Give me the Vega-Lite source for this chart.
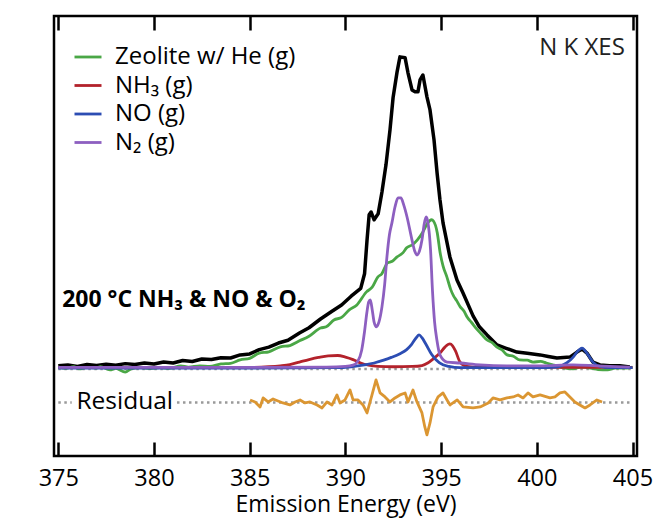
{
  "$schema": "https://vega.github.io/schema/vega-lite/v6.json",
  "width": 583,
  "height": 440,
  "autosize": {"type": "none"},
  "padding": {"left": 54, "top": 16, "right": 18, "bottom": 62},
  "background": "white",
  "config": {
    "view": {"stroke": "black", "strokeWidth": 2.5},
    "font": "Open Sans",
    "axis": {"grid": false}
  },
  "datasets": {
    "baselines": [
      {"x1": 375, "x2": 405, "y": 0},
      {"x1": 375, "x2": 375.7, "y": -0.1074},
      {"x1": 381.2, "x2": 405, "y": -0.1074}
    ],
    "total": [
      {"E": 375.0, "I": 0.010}, {"E": 375.5, "I": 0.013}, {"E": 376.0, "I": 0.008}, {"E": 376.5, "I": 0.014},
      {"E": 377.0, "I": 0.011}, {"E": 377.5, "I": 0.015}, {"E": 378.0, "I": 0.012}, {"E": 378.5, "I": 0.017},
      {"E": 379.0, "I": 0.014}, {"E": 379.5, "I": 0.019}, {"E": 380.0, "I": 0.016}, {"E": 380.5, "I": 0.022},
      {"E": 381.0, "I": 0.019}, {"E": 381.5, "I": 0.027}, {"E": 382.0, "I": 0.024}, {"E": 382.5, "I": 0.032},
      {"E": 383.0, "I": 0.030}, {"E": 383.5, "I": 0.036}, {"E": 384.0, "I": 0.035}, {"E": 384.5, "I": 0.045},
      {"E": 385.0, "I": 0.048}, {"E": 385.5, "I": 0.062}, {"E": 386.0, "I": 0.070}, {"E": 386.5, "I": 0.083},
      {"E": 387.0, "I": 0.092}, {"E": 387.6, "I": 0.115}, {"E": 388.1, "I": 0.132}, {"E": 388.7, "I": 0.160},
      {"E": 389.3, "I": 0.185}, {"E": 389.8, "I": 0.205}, {"E": 390.3, "I": 0.233}, {"E": 390.8, "I": 0.258},
      {"E": 391.0, "I": 0.305}, {"E": 391.13, "I": 0.413}, {"E": 391.24, "I": 0.494}, {"E": 391.34, "I": 0.503},
      {"E": 391.5, "I": 0.478}, {"E": 391.71, "I": 0.497}, {"E": 391.91, "I": 0.567}, {"E": 392.12, "I": 0.654},
      {"E": 392.33, "I": 0.766}, {"E": 392.49, "I": 0.869}, {"E": 392.7, "I": 0.952}, {"E": 392.85, "I": 1.0},
      {"E": 393.12, "I": 0.997}, {"E": 393.27, "I": 0.949}, {"E": 393.48, "I": 0.894}, {"E": 393.64, "I": 0.888},
      {"E": 393.79, "I": 0.888}, {"E": 393.9, "I": 0.926}, {"E": 394.05, "I": 0.942}, {"E": 394.26, "I": 0.872},
      {"E": 394.42, "I": 0.83}, {"E": 394.63, "I": 0.734}, {"E": 394.79, "I": 0.628}, {"E": 394.94, "I": 0.542},
      {"E": 395.1, "I": 0.468}, {"E": 395.46, "I": 0.359}, {"E": 395.83, "I": 0.285}, {"E": 396.14, "I": 0.244},
      {"E": 396.67, "I": 0.17}, {"E": 397.0, "I": 0.135}, {"E": 397.4, "I": 0.109}, {"E": 397.92, "I": 0.077},
      {"E": 398.4, "I": 0.066}, {"E": 398.96, "I": 0.054}, {"E": 399.5, "I": 0.05}, {"E": 400.17, "I": 0.045},
      {"E": 400.6, "I": 0.04}, {"E": 401.05, "I": 0.035}, {"E": 401.4, "I": 0.037}, {"E": 401.73, "I": 0.038},
      {"E": 402.1, "I": 0.054}, {"E": 402.36, "I": 0.064}, {"E": 402.62, "I": 0.051}, {"E": 402.93, "I": 0.022},
      {"E": 403.3, "I": 0.013}, {"E": 403.8, "I": 0.01}, {"E": 404.34, "I": 0.01}, {"E": 404.86, "I": 0.006}
    ],
    "components": [
      {"series": "Zeolite w/ He (g)", "E": 375.0, "I": 0.006}, {"series": "Zeolite w/ He (g)", "E": 375.4, "I": 0.002},
      {"series": "Zeolite w/ He (g)", "E": 375.8, "I": 0.007}, {"series": "Zeolite w/ He (g)", "E": 376.1, "I": 0.0},
      {"series": "Zeolite w/ He (g)", "E": 376.5, "I": 0.005}, {"series": "Zeolite w/ He (g)", "E": 377.0, "I": 0.003},
      {"series": "Zeolite w/ He (g)", "E": 377.2, "I": 0.007}, {"series": "Zeolite w/ He (g)", "E": 377.7, "I": -0.003},
      {"series": "Zeolite w/ He (g)", "E": 378.0, "I": 0.002}, {"series": "Zeolite w/ He (g)", "E": 378.5, "I": -0.01},
      {"series": "Zeolite w/ He (g)", "E": 378.8, "I": 0.0}, {"series": "Zeolite w/ He (g)", "E": 379.3, "I": 0.004},
      {"series": "Zeolite w/ He (g)", "E": 379.8, "I": 0.001}, {"series": "Zeolite w/ He (g)", "E": 380.3, "I": 0.004},
      {"series": "Zeolite w/ He (g)", "E": 380.8, "I": 0.002}, {"series": "Zeolite w/ He (g)", "E": 381.4, "I": 0.01},
      {"series": "Zeolite w/ He (g)", "E": 381.8, "I": 0.006}, {"series": "Zeolite w/ He (g)", "E": 382.4, "I": 0.01},
      {"series": "Zeolite w/ He (g)", "E": 382.9, "I": 0.008}, {"series": "Zeolite w/ He (g)", "E": 383.5, "I": 0.016},
      {"series": "Zeolite w/ He (g)", "E": 384.0, "I": 0.018}, {"series": "Zeolite w/ He (g)", "E": 384.5, "I": 0.029},
      {"series": "Zeolite w/ He (g)", "E": 385.0, "I": 0.034}, {"series": "Zeolite w/ He (g)", "E": 385.5, "I": 0.051},
      {"series": "Zeolite w/ He (g)", "E": 386.0, "I": 0.055}, {"series": "Zeolite w/ He (g)", "E": 386.6, "I": 0.071},
      {"series": "Zeolite w/ He (g)", "E": 387.1, "I": 0.075}, {"series": "Zeolite w/ He (g)", "E": 387.6, "I": 0.09},
      {"series": "Zeolite w/ He (g)", "E": 388.1, "I": 0.105}, {"series": "Zeolite w/ He (g)", "E": 388.7, "I": 0.131},
      {"series": "Zeolite w/ He (g)", "E": 389.0, "I": 0.135}, {"series": "Zeolite w/ He (g)", "E": 389.4, "I": 0.157},
      {"series": "Zeolite w/ He (g)", "E": 389.8, "I": 0.165}, {"series": "Zeolite w/ He (g)", "E": 390.2, "I": 0.189},
      {"series": "Zeolite w/ He (g)", "E": 390.6, "I": 0.205}, {"series": "Zeolite w/ He (g)", "E": 391.1, "I": 0.247},
      {"series": "Zeolite w/ He (g)", "E": 391.4, "I": 0.262}, {"series": "Zeolite w/ He (g)", "E": 391.7, "I": 0.295},
      {"series": "Zeolite w/ He (g)", "E": 391.9, "I": 0.305}, {"series": "Zeolite w/ He (g)", "E": 392.2, "I": 0.34},
      {"series": "Zeolite w/ He (g)", "E": 392.45, "I": 0.345}, {"series": "Zeolite w/ He (g)", "E": 392.7, "I": 0.359},
      {"series": "Zeolite w/ He (g)", "E": 393.0, "I": 0.372}, {"series": "Zeolite w/ He (g)", "E": 393.2, "I": 0.388},
      {"series": "Zeolite w/ He (g)", "E": 393.5, "I": 0.398}, {"series": "Zeolite w/ He (g)", "E": 393.75, "I": 0.413},
      {"series": "Zeolite w/ He (g)", "E": 394.05, "I": 0.439}, {"series": "Zeolite w/ He (g)", "E": 394.3, "I": 0.468},
      {"series": "Zeolite w/ He (g)", "E": 394.5, "I": 0.478}, {"series": "Zeolite w/ He (g)", "E": 394.6, "I": 0.474},
      {"series": "Zeolite w/ He (g)", "E": 394.8, "I": 0.436}, {"series": "Zeolite w/ He (g)", "E": 394.95, "I": 0.372},
      {"series": "Zeolite w/ He (g)", "E": 395.1, "I": 0.33}, {"series": "Zeolite w/ He (g)", "E": 395.3, "I": 0.295},
      {"series": "Zeolite w/ He (g)", "E": 395.5, "I": 0.255}, {"series": "Zeolite w/ He (g)", "E": 395.65, "I": 0.234},
      {"series": "Zeolite w/ He (g)", "E": 395.8, "I": 0.22}, {"series": "Zeolite w/ He (g)", "E": 396.0, "I": 0.199},
      {"series": "Zeolite w/ He (g)", "E": 396.2, "I": 0.185}, {"series": "Zeolite w/ He (g)", "E": 396.35, "I": 0.167},
      {"series": "Zeolite w/ He (g)", "E": 396.6, "I": 0.148}, {"series": "Zeolite w/ He (g)", "E": 396.9, "I": 0.125},
      {"series": "Zeolite w/ He (g)", "E": 397.1, "I": 0.112}, {"series": "Zeolite w/ He (g)", "E": 397.4, "I": 0.093},
      {"series": "Zeolite w/ He (g)", "E": 397.65, "I": 0.085}, {"series": "Zeolite w/ He (g)", "E": 397.9, "I": 0.071},
      {"series": "Zeolite w/ He (g)", "E": 398.2, "I": 0.06}, {"series": "Zeolite w/ He (g)", "E": 398.45, "I": 0.045},
      {"series": "Zeolite w/ He (g)", "E": 398.8, "I": 0.04}, {"series": "Zeolite w/ He (g)", "E": 399.1, "I": 0.029},
      {"series": "Zeolite w/ He (g)", "E": 399.5, "I": 0.028}, {"series": "Zeolite w/ He (g)", "E": 399.8, "I": 0.022},
      {"series": "Zeolite w/ He (g)", "E": 400.2, "I": 0.024}, {"series": "Zeolite w/ He (g)", "E": 400.5, "I": 0.019},
      {"series": "Zeolite w/ He (g)", "E": 400.9, "I": 0.012}, {"series": "Zeolite w/ He (g)", "E": 401.4, "I": 0.003},
      {"series": "Zeolite w/ He (g)", "E": 401.9, "I": 0.0}, {"series": "Zeolite w/ He (g)", "E": 402.3, "I": 0.006},
      {"series": "Zeolite w/ He (g)", "E": 402.8, "I": 0.003}, {"series": "Zeolite w/ He (g)", "E": 403.2, "I": -0.002},
      {"series": "Zeolite w/ He (g)", "E": 403.7, "I": -0.003}, {"series": "Zeolite w/ He (g)", "E": 404.1, "I": 0.003},
      {"series": "Zeolite w/ He (g)", "E": 404.7, "I": 0.003}, {"series": "Zeolite w/ He (g)", "E": 405.0, "I": 0.006},

      {"series": "NH₃ (g)", "E": 375.0, "I": 0.005}, {"series": "NH₃ (g)", "E": 385.0, "I": 0.005},
      {"series": "NH₃ (g)", "E": 386.0, "I": 0.007}, {"series": "NH₃ (g)", "E": 386.6, "I": 0.010},
      {"series": "NH₃ (g)", "E": 387.1, "I": 0.014}, {"series": "NH₃ (g)", "E": 387.6, "I": 0.022},
      {"series": "NH₃ (g)", "E": 388.1, "I": 0.030}, {"series": "NH₃ (g)", "E": 388.6, "I": 0.037},
      {"series": "NH₃ (g)", "E": 389.1, "I": 0.042}, {"series": "NH₃ (g)", "E": 389.6, "I": 0.043},
      {"series": "NH₃ (g)", "E": 390.0, "I": 0.038}, {"series": "NH₃ (g)", "E": 390.4, "I": 0.030},
      {"series": "NH₃ (g)", "E": 390.8, "I": 0.019}, {"series": "NH₃ (g)", "E": 391.2, "I": 0.012},
      {"series": "NH₃ (g)", "E": 391.7, "I": 0.008}, {"series": "NH₃ (g)", "E": 392.5, "I": 0.007},
      {"series": "NH₃ (g)", "E": 393.5, "I": 0.008}, {"series": "NH₃ (g)", "E": 394.0, "I": 0.011},
      {"series": "NH₃ (g)", "E": 394.3, "I": 0.019}, {"series": "NH₃ (g)", "E": 394.6, "I": 0.033},
      {"series": "NH₃ (g)", "E": 394.94, "I": 0.051}, {"series": "NH₃ (g)", "E": 395.2, "I": 0.070},
      {"series": "NH₃ (g)", "E": 395.46, "I": 0.080}, {"series": "NH₃ (g)", "E": 395.6, "I": 0.074},
      {"series": "NH₃ (g)", "E": 395.75, "I": 0.058}, {"series": "NH₃ (g)", "E": 395.99, "I": 0.022},
      {"series": "NH₃ (g)", "E": 396.35, "I": 0.008}, {"series": "NH₃ (g)", "E": 397.0, "I": 0.005},
      {"series": "NH₃ (g)", "E": 400.0, "I": 0.005}, {"series": "NH₃ (g)", "E": 405.0, "I": 0.005},

      {"series": "NO (g)", "E": 375.0, "I": 0.003}, {"series": "NO (g)", "E": 385.0, "I": 0.003},
      {"series": "NO (g)", "E": 389.5, "I": 0.004}, {"series": "NO (g)", "E": 390.3, "I": 0.007},
      {"series": "NO (g)", "E": 391.0, "I": 0.013}, {"series": "NO (g)", "E": 391.5, "I": 0.019},
      {"series": "NO (g)", "E": 392.0, "I": 0.028}, {"series": "NO (g)", "E": 392.4, "I": 0.037},
      {"series": "NO (g)", "E": 392.85, "I": 0.049}, {"series": "NO (g)", "E": 393.2, "I": 0.062},
      {"series": "NO (g)", "E": 393.45, "I": 0.078}, {"series": "NO (g)", "E": 393.7, "I": 0.100},
      {"series": "NO (g)", "E": 393.85, "I": 0.109}, {"series": "NO (g)", "E": 394.0, "I": 0.100},
      {"series": "NO (g)", "E": 394.2, "I": 0.080}, {"series": "NO (g)", "E": 394.5, "I": 0.047},
      {"series": "NO (g)", "E": 394.9, "I": 0.020}, {"series": "NO (g)", "E": 395.4, "I": 0.008},
      {"series": "NO (g)", "E": 396.0, "I": 0.004}, {"series": "NO (g)", "E": 400.0, "I": 0.004},
      {"series": "NO (g)", "E": 401.0, "I": 0.006}, {"series": "NO (g)", "E": 401.58, "I": 0.020},
      {"series": "NO (g)", "E": 401.9, "I": 0.038}, {"series": "NO (g)", "E": 402.1, "I": 0.054},
      {"series": "NO (g)", "E": 402.36, "I": 0.067}, {"series": "NO (g)", "E": 402.67, "I": 0.046},
      {"series": "NO (g)", "E": 402.93, "I": 0.022}, {"series": "NO (g)", "E": 403.3, "I": 0.008},
      {"series": "NO (g)", "E": 403.8, "I": 0.004}, {"series": "NO (g)", "E": 405.0, "I": 0.004},

      {"series": "N₂ (g)", "E": 375.0, "I": 0.005}, {"series": "N₂ (g)", "E": 385.0, "I": 0.005},
      {"series": "N₂ (g)", "E": 389.0, "I": 0.006}, {"series": "N₂ (g)", "E": 390.0, "I": 0.008},
      {"series": "N₂ (g)", "E": 390.4, "I": 0.012}, {"series": "N₂ (g)", "E": 390.65, "I": 0.025},
      {"series": "N₂ (g)", "E": 390.85, "I": 0.06}, {"series": "N₂ (g)", "E": 391.0, "I": 0.12},
      {"series": "N₂ (g)", "E": 391.12, "I": 0.18}, {"series": "N₂ (g)", "E": 391.22, "I": 0.215},
      {"series": "N₂ (g)", "E": 391.3, "I": 0.221}, {"series": "N₂ (g)", "E": 391.4, "I": 0.19},
      {"series": "N₂ (g)", "E": 391.5, "I": 0.15}, {"series": "N₂ (g)", "E": 391.62, "I": 0.135},
      {"series": "N₂ (g)", "E": 391.75, "I": 0.15}, {"series": "N₂ (g)", "E": 391.91, "I": 0.199},
      {"series": "N₂ (g)", "E": 392.05, "I": 0.27}, {"series": "N₂ (g)", "E": 392.17, "I": 0.359},
      {"series": "N₂ (g)", "E": 392.3, "I": 0.43}, {"series": "N₂ (g)", "E": 392.43, "I": 0.468},
      {"series": "N₂ (g)", "E": 392.59, "I": 0.519}, {"series": "N₂ (g)", "E": 392.75, "I": 0.548},
      {"series": "N₂ (g)", "E": 392.9, "I": 0.548}, {"series": "N₂ (g)", "E": 393.05, "I": 0.525},
      {"series": "N₂ (g)", "E": 393.22, "I": 0.487}, {"series": "N₂ (g)", "E": 393.48, "I": 0.413},
      {"series": "N₂ (g)", "E": 393.62, "I": 0.378}, {"series": "N₂ (g)", "E": 393.74, "I": 0.365},
      {"series": "N₂ (g)", "E": 393.87, "I": 0.378}, {"series": "N₂ (g)", "E": 394.0, "I": 0.413},
      {"series": "N₂ (g)", "E": 394.12, "I": 0.465}, {"series": "N₂ (g)", "E": 394.22, "I": 0.487},
      {"series": "N₂ (g)", "E": 394.31, "I": 0.47}, {"series": "N₂ (g)", "E": 394.45, "I": 0.38},
      {"series": "N₂ (g)", "E": 394.55, "I": 0.25}, {"series": "N₂ (g)", "E": 394.66, "I": 0.15},
      {"series": "N₂ (g)", "E": 394.78, "I": 0.093}, {"series": "N₂ (g)", "E": 394.94, "I": 0.045},
      {"series": "N₂ (g)", "E": 395.31, "I": 0.022}, {"series": "N₂ (g)", "E": 395.99, "I": 0.019},
      {"series": "N₂ (g)", "E": 397.04, "I": 0.013}, {"series": "N₂ (g)", "E": 398.44, "I": 0.01},
      {"series": "N₂ (g)", "E": 400.17, "I": 0.01}, {"series": "N₂ (g)", "E": 401.89, "I": 0.013},
      {"series": "N₂ (g)", "E": 403.14, "I": 0.01}, {"series": "N₂ (g)", "E": 404.86, "I": 0.006}
    ],
    "residual": [
      {"E": 385.02, "I": -0.0994}, {"E": 385.28, "I": -0.1058}, {"E": 385.54, "I": -0.1218}, {"E": 385.7, "I": -0.0929},
      {"E": 385.96, "I": -0.1058}, {"E": 386.22, "I": -0.0962}, {"E": 386.48, "I": -0.1026}, {"E": 386.74, "I": -0.109},
      {"E": 387.1, "I": -0.1154}, {"E": 387.37, "I": -0.1058}, {"E": 387.63, "I": -0.0994}, {"E": 387.89, "I": -0.109},
      {"E": 388.15, "I": -0.1058}, {"E": 388.52, "I": -0.1154}, {"E": 388.78, "I": -0.125}, {"E": 389.04, "I": -0.1058},
      {"E": 389.3, "I": -0.1154}, {"E": 389.56, "I": -0.0833}, {"E": 389.72, "I": -0.109}, {"E": 389.98, "I": -0.0994},
      {"E": 390.24, "I": -0.0673}, {"E": 390.4, "I": -0.0994}, {"E": 390.66, "I": -0.0994}, {"E": 390.92, "I": -0.1154},
      {"E": 391.13, "I": -0.141}, {"E": 391.39, "I": -0.0833}, {"E": 391.6, "I": -0.0353}, {"E": 391.81, "I": -0.0769},
      {"E": 392.07, "I": -0.0897}, {"E": 392.33, "I": -0.1058}, {"E": 392.59, "I": -0.0929}, {"E": 392.85, "I": -0.0833},
      {"E": 393.12, "I": -0.0769}, {"E": 393.27, "I": -0.1058}, {"E": 393.53, "I": -0.0673}, {"E": 393.74, "I": -0.1058},
      {"E": 394.0, "I": -0.141}, {"E": 394.15, "I": -0.1859}, {"E": 394.26, "I": -0.2115}, {"E": 394.42, "I": -0.1731},
      {"E": 394.58, "I": -0.1218}, {"E": 394.84, "I": -0.0897}, {"E": 395.1, "I": -0.0769}, {"E": 395.37, "I": -0.1058},
      {"E": 395.47, "I": -0.1154}, {"E": 395.84, "I": -0.0994}, {"E": 396.15, "I": -0.1218}, {"E": 396.67, "I": -0.125},
      {"E": 397.04, "I": -0.1218}, {"E": 397.46, "I": -0.109}, {"E": 397.71, "I": -0.0929}, {"E": 398.08, "I": -0.0994},
      {"E": 398.44, "I": -0.0929}, {"E": 398.76, "I": -0.0897}, {"E": 399.02, "I": -0.0833}, {"E": 399.28, "I": -0.0929},
      {"E": 399.54, "I": -0.0769}, {"E": 399.8, "I": -0.0897}, {"E": 400.17, "I": -0.0833}, {"E": 400.69, "I": -0.0929},
      {"E": 400.95, "I": -0.0897}, {"E": 401.21, "I": -0.0769}, {"E": 401.47, "I": -0.0737}, {"E": 401.73, "I": -0.0897},
      {"E": 401.99, "I": -0.1058}, {"E": 402.25, "I": -0.1154}, {"E": 402.52, "I": -0.125}, {"E": 402.78, "I": -0.1154},
      {"E": 403.14, "I": -0.0994}, {"E": 403.41, "I": -0.1058}
    ],
    "label_tr": [{"E": 404.6, "I": 1.03, "text": "N K XES"}],
    "label_res": [{"E": 375.95, "I": -0.1074, "text": "Residual"}],
    "label_cond": [{"E": 375.2, "I": 0.199, "text": "200 °C NH₃ & NO & O₂"}]
  },
  "resolve": {"axis": {"x": "independent"}},
  "layer": [
    {
      "data": {"name": "baselines"},
      "mark": {"type": "rule", "color": "#9a9a9a", "strokeWidth": 2.5, "strokeDash": [2.5, 3.5]},
      "encoding": {
        "x": {"field": "x1", "type": "quantitative", "scale": {"domain": [374.775, 405.235], "nice": false, "zero": false},
          "axis": {"orient": "bottom", "values": [375, 380, 385, 390, 395, 400, 405], "format": "d", "domain": false,
            "tickSize": -14, "tickWidth": 2.5, "tickColor": "black", "labelFontSize": 23.5, "labelColor": "black",
            "labelPadding": 24, "title": "Emission Energy (eV)", "titleFontSize": 23, "titleFontWeight": "normal",
            "titleColor": "black", "titlePadding": 4}},
        "x2": {"field": "x2"},
        "y": {"field": "y", "type": "quantitative", "scale": {"domain": [-0.279, 1.131], "nice": false, "zero": false},
          "axis": {"orient": "left", "domain": false, "ticks": false, "labels": false, "title": "Normalized Intensity",
            "titleFontSize": 24, "titleFontWeight": "normal", "titleColor": "black", "titlePadding": 20}}
      }
    },
    {
      "data": {"name": "total"},
      "mark": {"type": "line", "color": "black", "strokeWidth": 3.5, "strokeJoin": "round"},
      "encoding": {
        "x": {"field": "E", "type": "quantitative",
          "axis": {"orient": "top", "values": [375, 380, 385, 390, 395, 400, 405], "domain": false, "labels": false,
            "tickSize": -14, "tickWidth": 2.5, "tickColor": "black", "title": null}},
        "y": {"field": "I", "type": "quantitative", "axis": null}
      }
    },
    {
      "data": {"name": "components"},
      "mark": {"type": "line", "strokeWidth": 2.8, "interpolate": "monotone", "strokeJoin": "round"},
      "encoding": {
        "x": {"field": "E", "type": "quantitative", "axis": null},
        "y": {"field": "I", "type": "quantitative", "axis": null},
        "color": {"field": "series", "type": "nominal",
          "scale": {"domain": ["Zeolite w/ He (g)", "NH₃ (g)", "NO (g)", "N₂ (g)"],
            "range": ["#4aa746", "#b3222b", "#2c4db3", "#8d5fc0"]},
          "legend": {"orient": "none", "legendX": 19, "legendY": 26, "title": null, "symbolType": "stroke",
            "symbolSize": 729, "symbolStrokeWidth": 2.8, "labelFontSize": 24, "labelColor": "black",
            "labelOffset": 12, "rowPadding": 1.5, "padding": 0, "labelLimit": 400}}
      }
    },
    {
      "data": {"name": "residual"},
      "mark": {"type": "line", "color": "#db9632", "strokeWidth": 2.8, "strokeJoin": "round"},
      "encoding": {
        "x": {"field": "E", "type": "quantitative", "axis": null},
        "y": {"field": "I", "type": "quantitative", "axis": null}
      }
    },
    {
      "data": {"name": "label_tr"},
      "mark": {"type": "text", "align": "right", "baseline": "middle", "fontSize": 24, "color": "#222"},
      "encoding": {
        "x": {"field": "E", "type": "quantitative", "axis": null},
        "y": {"field": "I", "type": "quantitative", "axis": null},
        "text": {"field": "text"}
      }
    },
    {
      "data": {"name": "label_res"},
      "mark": {"type": "text", "align": "left", "baseline": "middle", "fontSize": 24.5, "color": "black"},
      "encoding": {
        "x": {"field": "E", "type": "quantitative", "axis": null},
        "y": {"field": "I", "type": "quantitative", "axis": null},
        "text": {"field": "text"}
      }
    },
    {
      "data": {"name": "label_cond"},
      "mark": {"type": "text", "align": "left", "baseline": "alphabetic", "fontSize": 23, "fontWeight": "bold", "color": "black"},
      "encoding": {
        "x": {"field": "E", "type": "quantitative", "axis": null},
        "y": {"field": "I", "type": "quantitative", "axis": null},
        "text": {"field": "text"}
      }
    }
  ]
}
